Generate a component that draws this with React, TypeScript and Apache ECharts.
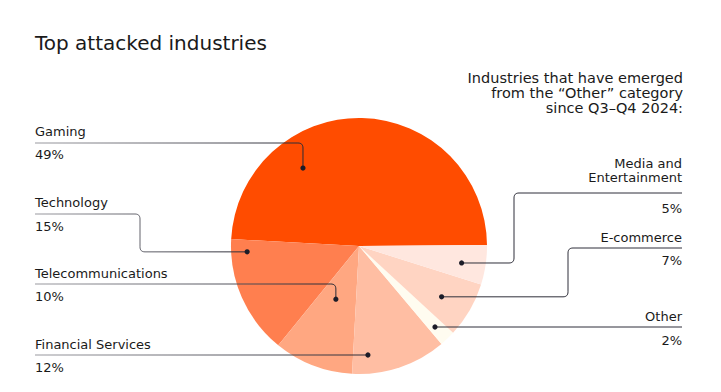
import React, { useEffect, useRef } from "react";
import * as echarts from "echarts";

const categories = [
  "Gaming",
  "Technology",
  "Telecommunications",
  "Financial Services",
  "Other",
  "E-commerce",
  "Media and Entertainment",
];
const values = [49, 15, 10, 12, 2, 7, 5];
const valueLabels = ["49%", "15%", "10%", "12%", "2%", "7%", "5%"];
const colors = ["#FF4C00", "#FF7F4F", "#FFA781", "#FFBEA3", "#FFFCF0", "#FFD4C2", "#FFE7DF"];

const titleText = "Top attacked industries";
const subtitleLines = ["Industries that have emerged", "from the \u201cOther\u201d category", "since Q3\u2013Q4 2024:"];

// layout (positions only)
const CX = 359;
const CY = 246;
const R = 128;
const FONT = '"DejaVu Sans", sans-serif';
const layout = [
  { side: "left", nameY: [131], lineY: 143, valueY: 154, elbowX: null, dotA: 125.7, dotR: 96 },
  { side: "left", nameY: [202], lineY: 214, valueY: 226, elbowX: 140, dotA: 183, dotR: 112 },
  { side: "left", nameY: [273], lineY: 284, valueY: 296, elbowX: null, dotA: 246.5, dotR: 58 },
  { side: "left", nameY: [344], lineY: 355, valueY: 367, elbowX: null, dotA: 274.7, dotR: 109 },
  { side: "right", nameY: [316], lineY: 327, valueY: 340, elbowX: null, dotA: 313.2, dotR: 111 },
  { side: "right", nameY: [237], lineY: 248, valueY: 260, elbowX: 568, dotA: 328.4, dotR: 97 },
  { side: "right", nameY: [163, 177], lineY: 193, valueY: 208, elbowX: 514, dotA: 350.6, dotR: 104 },
];
const nameLinesOf = (name: string) =>
  name === "Media and Entertainment" ? ["Media and", "Entertainment"] : [name];

function roundPts(pts: number[][], r: number) {
  const out: number[][] = [pts[0]];
  for (let i = 1; i < pts.length - 1; i++) {
    const p0 = pts[i - 1], p1 = pts[i], p2 = pts[i + 1];
    const l1 = Math.hypot(p0[0] - p1[0], p0[1] - p1[1]);
    const l2 = Math.hypot(p2[0] - p1[0], p2[1] - p1[1]);
    if (l1 < 0.5 || l2 < 0.5) { out.push(p1); continue; }
    const rr = Math.min(r, l1 / 2, l2 / 2);
    const a = [p1[0] + ((p0[0] - p1[0]) / l1) * rr, p1[1] + ((p0[1] - p1[1]) / l1) * rr];
    const b = [p1[0] + ((p2[0] - p1[0]) / l2) * rr, p1[1] + ((p2[1] - p1[1]) / l2) * rr];
    const steps = 8;
    for (let s = 0; s <= steps; s++) {
      const t = s / steps;
      const x = (1 - t) * (1 - t) * a[0] + 2 * (1 - t) * t * p1[0] + t * t * b[0];
      const y = (1 - t) * (1 - t) * a[1] + 2 * (1 - t) * t * p1[1] + t * t * b[1];
      out.push([x, y]);
    }
  }
  out.push(pts[pts.length - 1]);
  return out;
}

export default function App() {
  const ref = useRef<HTMLDivElement>(null);
  useEffect(() => {
    document.body.style.margin = "0";
    const chart = echarts.init(ref.current!, null, { renderer: "svg" });
    const graphics: any[] = [];
    graphics.push({
      type: "text",
      z: 100,
      style: { text: titleText, x: 35, y: 43, fill: "#1a1a1a", fontSize: 20, fontFamily: FONT, textAlign: "left", verticalAlign: "middle" },
    });
    subtitleLines.forEach((t, i) => {
      graphics.push({
        type: "text",
        z: 100,
        style: { text: t, x: 683, y: 78 + i * 15, fill: "#1a1a1a", fontSize: 14.5, fontFamily: FONT, textAlign: "right", verticalAlign: "middle" },
      });
    });
    categories.forEach((name, i) => {
      const L = layout[i];
      const a = (L.dotA * Math.PI) / 180;
      const dx = CX + L.dotR * Math.cos(a);
      let dy = CY - L.dotR * Math.sin(a);
      const lineY = L.lineY;
      if (Math.abs(dy - lineY) < 3) dy = lineY;
      const left = L.side === "left";
      const tx = left ? 35 : 682;
      const pts: number[][] = [[tx, lineY]];
      if (L.elbowX != null) {
        pts.push([L.elbowX, lineY], [L.elbowX, dy], [dx, dy]);
      } else if (dy !== lineY) {
        pts.push([dx, lineY], [dx, dy]);
      } else {
        pts.push([dx, dy]);
      }
      const maxX = Math.max(...pts.map((p) => p[0]));
      graphics.push({
        type: "polyline",
        z: 100,
        shape: { points: roundPts(pts, 5) },
        style: {
          fill: "none",
          lineWidth: 1,
          stroke: left
            ? new echarts.graphic.LinearGradient(tx, 0, maxX, 0, [
                { offset: 0, color: "#9a9aa0" },
                { offset: 1, color: "#2a2a35" },
              ], true)
            : "#2f2f3a",
        },
      });
      graphics.push({ type: "circle", z: 101, shape: { cx: dx, cy: dy, r: 2.6 }, style: { fill: "#1c1c28" } });
      nameLinesOf(name).forEach((ln, k) => {
        graphics.push({
          type: "text",
          z: 100,
          style: { text: ln, x: tx, y: L.nameY[k], fill: "#1a1a1a", fontSize: 13, fontFamily: FONT, textAlign: left ? "left" : "right", verticalAlign: "middle" },
        });
      });
      graphics.push({
        type: "text",
        z: 100,
        style: { text: valueLabels[i], x: tx, y: L.valueY, fill: "#1a1a1a", fontSize: 13, fontFamily: FONT, textAlign: left ? "left" : "right", verticalAlign: "middle" },
      });
    });

    chart.setOption({
      animation: false,
      backgroundColor: "#ffffff",
      series: [
        {
          type: "pie",
          z: 1,
          center: [CX, CY],
          radius: R,
          startAngle: 0.5,
          clockwise: false,
          silent: true,
          label: { show: false },
          labelLine: { show: false },
          itemStyle: { borderWidth: 0 },
          data: categories.map((n, i) => ({ name: n, value: values[i], itemStyle: { color: colors[i] } })),
        },
      ],
      graphic: graphics,
    });
    return () => chart.dispose();
  }, []);
  return <div ref={ref} style={{ width: 721, height: 392 }} />;
}
